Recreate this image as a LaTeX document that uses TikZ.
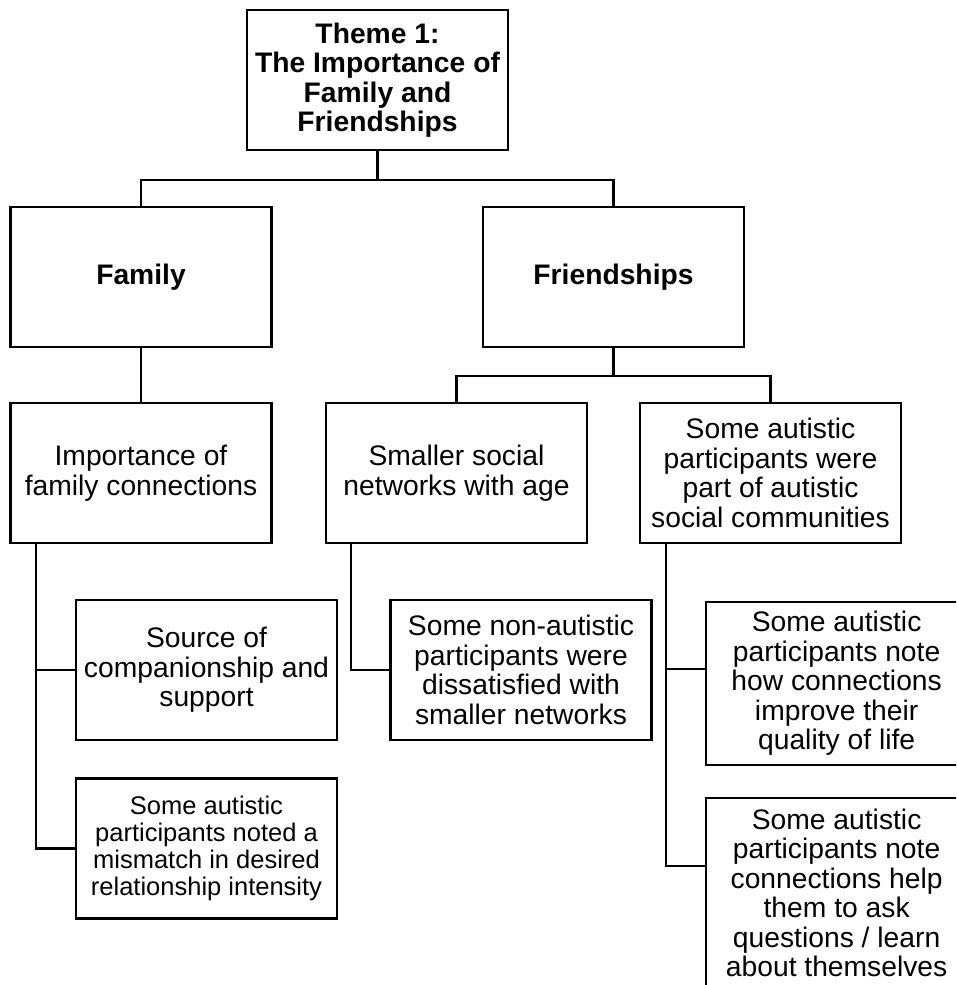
\documentclass[tikz,border=0pt]{standalone}
\usepackage{fontspec}
\setmainfont{Liberation Sans}
\usetikzlibrary{positioning,calc}
\tikzset{
  box/.style={draw, line width=0.9pt, minimum width=104.4pt, minimum height=56pt, align=center, inner sep=2pt, font=\fontsize{11.3}{11.8}\selectfont},
  head/.style={box, font=\fontsize{11.3}{11.8}\selectfont\bfseries},
  smallbox/.style={box, font=\fontsize{10.2}{10.8}\selectfont},
  link/.style={line width=0.9pt},
}
\begin{document}
\begin{tikzpicture}[x=0.4pt,y=-0.4pt]
  \clip (0,0) rectangle (956,985);

  \node[head] (theme) at (377.5,80) {Theme 1:\\The Importance of\\Family and\\Friendships};
  \node[head] (family) at (141,277) {Family};
  \node[head] (friends) at (613.5,277) {Friendships};

  \node[box] (imp) at (141,473) {Importance of\\family connections};
  \node[box] (smaller) at (456.5,473) {Smaller social\\networks with age};
  \node[box] (comm) at (770.5,473) {Some autistic\\participants were\\part of autistic\\social communities};

  \node[box] (source) at (206.5,670) {Source of\\companionship and\\support};
  \node[smallbox] (mismatch) at (206.5,848.5) {Some autistic\\participants noted a\\mismatch in desired\\relationship intensity};
  \node[box] (dissat) at (521,670) {Some non-autistic\\participants were\\dissatisfied with\\smaller networks};
  \node[box, anchor=north west, minimum height=65.2pt] (quality) at (705,601) {Some autistic\\participants note\\how connections\\improve their\\quality of life};
  \node[box, anchor=north west, minimum height=76pt] (learn) at (705,797) {Some autistic\\participants note\\connections help\\them to ask\\questions / learn\\about themselves};

  % top level
  \draw[link] (theme.south) -- ++(0,29) -| (family.north);
  \draw[link] (theme.south) -- ++(0,29) -| (friends.north);

  % second level
  \draw[link] (family.south) -- (imp.north);
  \draw[link] (friends.south) -- ++(0,28) -| (smaller.north);
  \draw[link] (friends.south) -- ++(0,28) -| (comm.north);

  % spines to sub-themes
  \draw[link] (imp.south west) ++(27,0) |- (source.west);
  \draw[link] (imp.south west) ++(27,0) |- (mismatch.west);
  \draw[link] (smaller.south west) ++(26,0) |- (dissat.west);
  \draw[link] (comm.south west) ++(27,0) |- ($(quality.north west)+(0,68)$);
  \draw[link] (comm.south west) ++(27,0) |- ($(learn.north west)+(0,69)$);
\end{tikzpicture}
\end{document}
